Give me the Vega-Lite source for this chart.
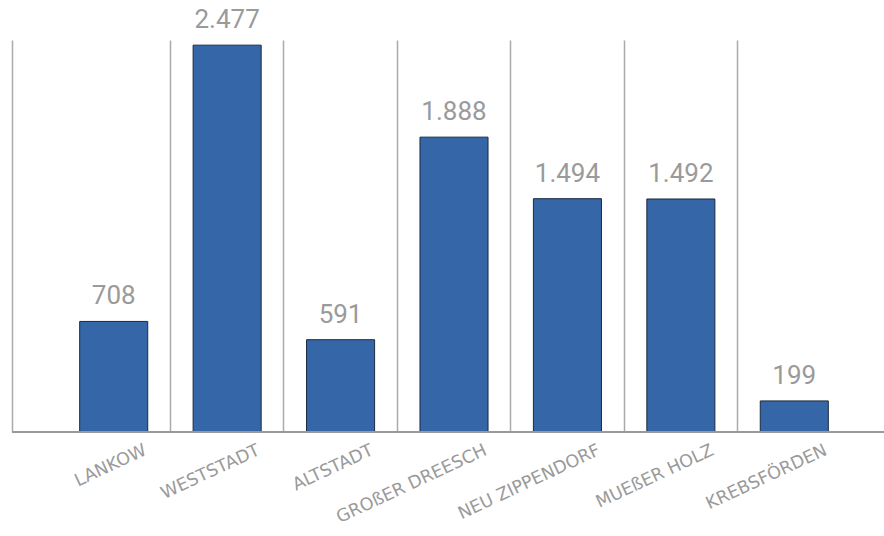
{
  "$schema": "https://vega.github.io/schema/vega-lite/v6.json",
  "width": 872,
  "height": 392,
  "autosize": {"type": "none"},
  "padding": {"left": 12, "top": 40, "right": 0, "bottom": 104},
  "background": "white",
  "config": {
    "view": {"stroke": null},
    "locale": {"number": {"decimal": ",", "thousands": ".", "grouping": [3], "currency": ["", " €"]}}
  },
  "data": {
    "values": [
      {"stadtteil": "LANKOW", "wert": 708},
      {"stadtteil": "WESTSTADT", "wert": 2477},
      {"stadtteil": "ALTSTADT", "wert": 591},
      {"stadtteil": "GROßER DREESCH", "wert": 1888},
      {"stadtteil": "NEU ZIPPENDORF", "wert": 1494},
      {"stadtteil": "MUEßER HOLZ", "wert": 1492},
      {"stadtteil": "KREBSFÖRDEN", "wert": 199}
    ]
  },
  "encoding": {
    "x": {
      "field": "stadtteil",
      "type": "nominal",
      "sort": null,
      "scale": {"range": [45, 839], "paddingInner": 0.4, "paddingOuter": 0.2},
      "axis": {
        "title": null,
        "grid": true,
        "gridColor": {"condition": {"test": "datum.value === 'LANKOW'", "value": "transparent"}, "value": "#aaaaaa"},
        "gridWidth": 1.5,
        "bandPosition": -0.3333,
        "ticks": false,
        "domain": false,
        "labelAngle": -25,
        "labelAlign": "right",
        "labelBaseline": "top",
        "labelOffset": 28,
        "labelPadding": 9,
        "labelFont": "DejaVu Sans",
        "labelFontSize": 17.5,
        "labelColor": "#9a9a9a"
      }
    },
    "y": {
      "field": "wert",
      "type": "quantitative",
      "scale": {"domain": [0, 2510], "nice": false},
      "axis": {
        "title": null,
        "labels": false,
        "ticks": false,
        "grid": false,
        "domainColor": "#aaaaaa",
        "domainWidth": 1.5
      }
    }
  },
  "layer": [
    {
      "mark": {"type": "bar", "fill": "#3466a8", "stroke": "#1b2a3f", "strokeWidth": 1}
    },
    {
      "mark": {"type": "text", "baseline": "bottom", "dy": -12, "font": "Roboto", "fontSize": 26, "fill": "#9a9a9a"},
      "encoding": {
        "text": {"field": "wert", "type": "quantitative", "format": ",.0f"}
      }
    },
    {
      "mark": {"type": "rule", "color": "#999999", "strokeWidth": 2},
      "encoding": {"x": null, "y": {"datum": 0}}
    }
  ]
}
